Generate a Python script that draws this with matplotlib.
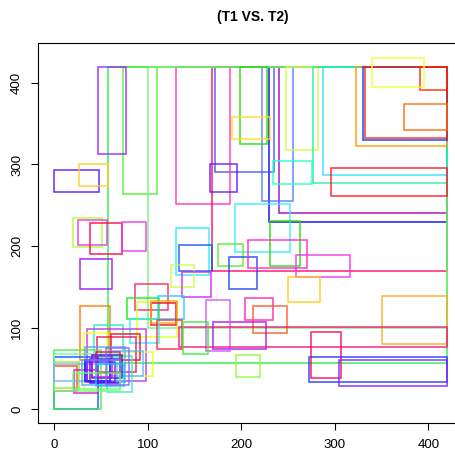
import matplotlib
matplotlib.use("Agg")
import matplotlib.pyplot as plt
from matplotlib.patches import Rectangle

plt.rcParams['font.family'] = ['Liberation Sans', 'DejaVu Sans']

title = "(T1 VS. T2)"
tick_values = [0, 100, 200, 300, 400]

# rectangles: x start, x end, y start, y end, colour
x0 = [240, 230, 222, 172, 130, 169, 57, 74, 100, 47, 248, 199, 190, 287, 277, 234, 323, 330, 332, 391,
      374, 340, 296, 193, 231, 175, 187, 207, 259, 250, 350, 204, 213, 170, 162, 133, 194, 275, 272, 304,
      0, 26, 167, 20, 25, 38, 73, 130, 133, 125, 137, 28, 86, 78, 89, 111, 103, 104, 81, 110,
      138, 28, 43, 35, 32, 74, 46, 61, 0, 0, 0, 0, 21, 56, 0, 0, 33, 60,
      33, 35, 40, 38, 45, 40, 30, 45, 20, 55]
x1 = [420, 420, 255, 235, 188, 420, 420, 110, 420, 77, 282, 228, 231, 420, 420, 276, 420, 420, 420, 420,
      420, 395, 420, 252, 263, 202, 217, 270, 316, 284, 420, 234, 249, 226, 188, 420, 220, 307, 420, 420,
      48, 57, 195, 51, 56, 73, 98, 165, 169, 149, 168, 62, 122, 112, 131, 139, 130, 131, 112, 137,
      164, 60, 74, 98, 56, 106, 87, 92, 47, 50, 24, 26, 47, 83, 70, 67, 76, 95,
      60, 65, 72, 70, 70, 62, 70, 75, 70, 80]
y0 = [240, 230, 255, 291, 251, 169, 57, 264, 100, 313, 318, 325, 331, 287, 277, 276, 323, 330, 332, 391,
      342, 395, 261, 193, 176, 176, 148, 173, 162, 131, 80, 110, 93, 74, 72, 76, 40, 38, 34, 28,
      266, 274, 266, 199, 201, 190, 194, 165, 169, 150, 137, 148, 122, 111, 89, 111, 103, 106, 81, 74,
      68, 60, 64, 35, 22, 41, 46, 61, 0, 0, 23, 26, 20, 21, 22, 35, 33, 41,
      35, 33, 38, 32, 45, 40, 30, 28, 25, 30]
y1 = [420, 420, 420, 420, 420, 420, 420, 420, 420, 420, 420, 420, 358, 420, 420, 304, 420, 420, 420, 420,
      374, 431, 296, 252, 231, 202, 187, 207, 189, 162, 139, 136, 127, 107, 134, 101, 66, 95, 64, 61,
      293, 300, 300, 234, 232, 228, 229, 222, 201, 177, 168, 184, 154, 136, 131, 139, 130, 133, 111, 110,
      107, 126, 103, 98, 94, 70, 88, 92, 64, 73, 53, 58, 48, 65, 68, 55, 76, 71,
      60, 58, 66, 62, 70, 65, 60, 55, 45, 75]
colors = ['#9900BB', '#0000DD', '#5577FF', '#4455EE', '#FF33AA', '#FF0066', '#22EE44', '#55EE33', '#77EE77', '#9922FF',
          '#CCFF44', '#22DD00', '#FFDD22', '#33DDFF', '#22EE99', '#22FFCC', '#FF9900', '#0033FF', '#FF2200', '#FF2200',
          '#FF6600', '#EEFF33', '#FF1122', '#33EEFF', '#22DD00', '#55EE22', '#2244EE', '#FF22CC', '#EE33EE', '#FFCC11',
          '#FFAA22', '#FF22AA', '#FF5522', '#AA11EE', '#CC55FF', '#EE1177', '#88FF33', '#FF0055', '#2233FF', '#7722FF',
          '#5511FF', '#FFCC22', '#6611FF', '#AAFF33', '#EE33DD', '#FF0044', '#EE33EE', '#22EEFF', '#1155EE', '#CCFF44',
          '#CC22EE', '#9911EE', '#FF2266', '#11EE11', '#DDFF22', '#22CCFF', '#EE0033', '#FFAA00', '#33EEEE', '#FF2244',
          '#33EE33', '#FF7700', '#22EEBB', '#BB33DD', '#FFFF22', '#EEFF22', '#EE1155', '#FF0022', '#0055FF', '#44EE44',
          '#FF4411', '#88EE22', '#DD11CC', '#33EEBB', '#66FF99', '#77AAFF', '#6699FF', '#55BBFF',
          '#0000FF', '#7711FF', '#3322DD', '#5500FF', '#EE0066', '#CC00FF', '#44AAFF', '#00CCFF', '#66FF66', '#8866FF']

fig = plt.figure(figsize=(4.55, 4.54), dpi=100)
ax = fig.add_axes([0.0842, 0.0676, 0.9435, 0.837])

for a, b, c, d, col in zip(x0, x1, y0, y1, colors):
    ax.add_patch(Rectangle((a, c), b - a, d - c, fill=False, edgecolor=col,
                           linewidth=1.15, alpha=0.85))

ax.set_xlim(-17, 442)
ax.set_ylim(-17.2, 448.5)
ax.set_xticks(tick_values)
ax.set_yticks(tick_values)
ax.set_xticklabels([str(v) for v in tick_values], fontsize=9.5)
ax.set_yticklabels([str(v) for v in tick_values], fontsize=9.5, rotation=90, va='center')
ax.tick_params(direction='out', length=5, width=0.8, pad=6)
for s in ax.spines.values():
    s.set_linewidth(0.8)

fig.text(0.556, 0.962, title, ha='center', va='center', fontsize=10, fontweight='bold')

fig.savefig("out.png", dpi=100)
